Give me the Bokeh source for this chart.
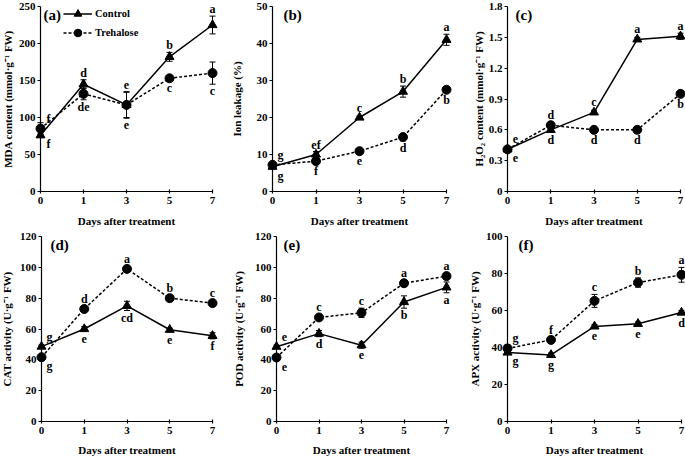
from bokeh.plotting import figure
from bokeh.models import (ColumnDataSource, Whisker, TeeHead, FixedTicker, Range1d,
                          Legend, LegendItem, Label, LabelSet)
from bokeh.layouts import column, row
from bokeh.embed import file_html
from bokeh.resources import INLINE
from bokeh.core.properties import value

FONT = "Liberation Serif"

# ---------------- data ----------------
days = ["0", "1", "3", "5", "7"]
series_names = ["Control", "Trehalose"]
x_title = "Days after treatment"

# (a) MDA content
mda_ctrl = [76, 145, 117, 182, 225]
mda_ctrl_err = [3, 6, 17, 6, 12]
mda_ctrl_let = ["f", "d", "e", "b", "a"]
mda_ctrl_side = ["d", "u", "u", "u", "u"]
mda_treh = [85, 132, 117, 153, 160]
mda_treh_err = [8, 8, 18, 3, 15]
mda_treh_let = ["f", "de", "e", "c", "c"]
mda_treh_side = ["u", "d", "d", "d", "d"]

# (b) Ion leakage
ion_ctrl = [6.7, 10.0, 20.0, 27.0, 41.0]
ion_ctrl_err = [0.3, 0.8, 0.4, 1.5, 1.5]
ion_ctrl_let = ["g", "ef", "c", "b", "a"]
ion_ctrl_side = ["d", "u", "u", "u", "u"]
ion_treh = [7.2, 8.2, 10.9, 14.7, 27.5]
ion_treh_err = [0.3, 0.4, 0.4, 1.0, 0.6]
ion_treh_let = ["g", "f", "e", "d", "b"]
ion_treh_side = ["u", "d", "d", "d", "d"]

# (c) H2O2 content
h2o2_ctrl = [0.41, 0.60, 0.77, 1.48, 1.51]
h2o2_ctrl_err = [0.01, 0.02, 0.02, 0.02, 0.03]
h2o2_ctrl_let = ["e", "d", "c", "a", "a"]
h2o2_ctrl_side = ["d", "d", "u", "u", "u"]
h2o2_treh = [0.41, 0.645, 0.60, 0.60, 0.95]
h2o2_treh_err = [0.01, 0.02, 0.01, 0.01, 0.02]
h2o2_treh_let = ["e", "d", "d", "d", "b"]
h2o2_treh_side = ["u", "u", "d", "d", "d"]

# (d) CAT activity
cat_ctrl = [48.6, 60.0, 75.0, 59.5, 55.6]
cat_ctrl_err = [1.0, 1.5, 3.0, 1.0, 2.0]
cat_ctrl_let = ["g", "e", "cd", "e", "f"]
cat_ctrl_side = ["u", "d", "d", "d", "d"]
cat_treh = [41.7, 73.0, 99.0, 80.0, 76.8]
cat_treh_err = [1.5, 1.0, 1.0, 1.0, 1.5]
cat_treh_let = ["g", "d", "a", "b", "c"]
cat_treh_side = ["d", "u", "u", "u", "u"]

# (e) POD activity
pod_ctrl = [48.5, 57.0, 49.5, 77.5, 87.0]
pod_ctrl_err = [1.0, 2.0, 2.0, 4.0, 3.5]
pod_ctrl_let = ["e", "d", "e", "b", "a"]
pod_ctrl_side = ["u", "d", "d", "d", "d"]
pod_treh = [41.5, 67.5, 70.5, 89.7, 94.3]
pod_treh_err = [1.0, 1.0, 3.0, 1.0, 1.0]
pod_treh_let = ["e", "c", "c", "a", "a"]
pod_treh_side = ["d", "u", "u", "u", "u"]

# (f) APX activity
apx_ctrl = [37.3, 36.0, 51.4, 52.8, 58.9]
apx_ctrl_err = [1.0, 1.0, 1.0, 1.0, 1.0]
apx_ctrl_let = ["g", "g", "e", "e", "d"]
apx_ctrl_side = ["d", "d", "d", "d", "d"]
apx_treh = [39.5, 44.1, 65.2, 75.1, 79.3]
apx_treh_err = [2.0, 1.5, 3.5, 2.5, 4.0]
apx_treh_let = ["g", "f", "c", "b", "a"]
apx_treh_side = ["u", "u", "u", "u", "u"]


def fmt_tick(t, dec):
    if t == 0:
        return "0"
    return f"{t:.{dec}f}"


def add_letters(p, x, vals, errs, lets, sides, px_per_unit):
    ys, xo, yo = [], [], []
    for i, (v, e, s) in enumerate(zip(vals, errs, sides)):
        up = s == "u"
        ys.append(v)
        if i == 0:
            xo.append(8)
            yo.append(10 if up else -9)
        else:
            off = max(e * px_per_unit + 7, 10)
            xo.append(0)
            yo.append(off if up else -off)
    src = ColumnDataSource(dict(x=x, y=ys, t=lets, xo=xo, yo=yo))
    ls = LabelSet(x="x", y="y", text="t", x_offset="xo", y_offset="yo", source=src,
                  text_font=value(FONT), text_font_style="bold", text_font_size="12px",
                  text_color="black", text_align="center", text_baseline="middle")
    p.add_layout(ls)


def add_errors(p, x, vals, errs):
    src = ColumnDataSource(dict(x=x, upper=[v + e for v, e in zip(vals, errs)],
                                lower=[v - e for v, e in zip(vals, errs)]))
    w = Whisker(source=src, base="x", upper="upper", lower="lower",
                line_color="black", line_width=1,
                upper_head=TeeHead(size=6, line_color="black", line_width=1),
                lower_head=TeeHead(size=6, line_color="black", line_width=1))
    p.add_layout(w)


def panel(tag, ylabel, ymax, ystep, dec,
          ctrl, ctrl_err, ctrl_let, ctrl_side,
          treh, treh_err, treh_let, treh_side,
          W, H, L, R, T, B, ylab_standoff, tag_dx, legend=False):
    # W,H: figure size; L,R,T,B: pixel distance from figure edges to the data box
    n = len(days)
    sx = (W - L - R) / (n - 1)
    sy = (H - T - B) / ymax
    p = figure(width=W, height=H, output_backend="svg", toolbar_location=None,
               x_range=Range1d(-L / sx, n - 1 + R / sx),
               y_range=Range1d(-B / sy, ymax + T / sy),
               min_border=0, min_border_left=0, min_border_right=0,
               min_border_top=0, min_border_bottom=0)
    p.outline_line_color = None
    p.grid.visible = False
    p.background_fill_color = "white"
    p.border_fill_color = "white"

    x = list(range(n))
    nt = int(round(ymax / ystep))
    yt = [round(i * ystep, 3) for i in range(nt + 1)]

    xa = p.xaxis[0]
    ya = p.yaxis[0]
    xa.ticker = FixedTicker(ticks=x)
    xa.major_label_overrides = {i: d for i, d in zip(x, days)}
    xa.bounds = (0, n - 1)
    xa.fixed_location = 0
    ya.ticker = FixedTicker(ticks=yt)
    ya.major_label_overrides = {t: fmt_tick(t, dec) for t in yt}
    ya.bounds = (0, ymax)
    ya.fixed_location = 0
    for ax in (xa, ya):
        ax.axis_line_width = 1.2
        ax.axis_line_color = "black"
        ax.major_tick_line_color = "black"
        ax.major_tick_line_width = 1.2
        ax.minor_tick_line_color = None
        ax.major_label_text_font = FONT
        ax.major_label_text_font_style = "bold"
        ax.major_label_text_font_size = "11px"
        ax.major_label_text_color = "black"
        ax.major_label_standoff = 2
        ax.axis_label_text_font = FONT
        ax.axis_label_text_font_style = "bold"
        ax.axis_label_text_font_size = "11px"
        ax.axis_label_text_color = "black"
    xa.major_tick_in = 2
    xa.major_tick_out = 2
    xa.major_label_standoff = 3
    ya.major_tick_in = 0
    ya.major_tick_out = 3
    ya.axis_label = ylabel
    ya.axis_label_standoff = ylab_standoff

    # x axis title, centred under the data span
    p.add_layout(Label(x=(n - 1) / 2, y=0, y_offset=-(B - 9), text=x_title,
                       text_font=FONT, text_font_style="bold", text_font_size="11px",
                       text_color="black", text_align="center", text_baseline="middle"))

    add_errors(p, x, ctrl, ctrl_err)
    add_errors(p, x, treh, treh_err)

    lc = p.line(x, ctrl, line_color="black", line_width=1.5)
    sc = p.scatter(x, ctrl, marker="triangle", size=9, color="black")
    lt = p.line(x, treh, line_color="black", line_width=1.5, line_dash="3 2")
    st = p.scatter(x, treh, marker="circle", size=9, color="black")

    add_letters(p, x, ctrl, ctrl_err, ctrl_let, ctrl_side, sy)
    add_letters(p, x, treh, treh_err, treh_let, treh_side, sy)

    p.add_layout(Label(x=0, y=ymax, x_offset=tag_dx, y_offset=-8, text=f"({tag})",
                       text_font=FONT, text_font_style="bold", text_font_size="15px",
                       text_color="black", text_baseline="middle", text_align="left"))

    if legend:
        lg = Legend(items=[LegendItem(label=series_names[0], renderers=[lc, sc]),
                           LegendItem(label=series_names[1], renderers=[lt, st])],
                    location=(L + 23, H - T - 35.5))
        lg.padding = 0
        lg.spacing = 0
        lg.margin = 0
        lg.glyph_width = 29
        lg.glyph_height = 19
        lg.label_height = 19
        lg.label_standoff = 3
        lg.border_line_color = None
        lg.background_fill_alpha = 0
        lg.label_text_font = FONT
        lg.label_text_font_style = "bold"
        lg.label_text_font_size = "10.5px"
        lg.label_text_color = "black"
        p.add_layout(lg)
    return p


pa = panel("a", "MDA content (mmol·g⁻¹ FW)", 250, 50, 0,
           mda_ctrl, mda_ctrl_err, mda_ctrl_let, mda_ctrl_side,
           mda_treh, mda_treh_err, mda_treh_let, mda_treh_side,
           228, 229, 40, 16, 6, 38, 2, 3, legend=True)
pb = panel("b", "Ion leakage (%)", 50, 10, 0,
           ion_ctrl, ion_ctrl_err, ion_ctrl_let, ion_ctrl_side,
           ion_treh, ion_treh_err, ion_treh_let, ion_treh_side,
           228, 229, 44, 10, 6, 38, 11, 11)
pc = panel("c", "H₂O₂ content (mmol·g⁻¹ FW)", 1.8, 0.3, 1,
           h2o2_ctrl, h2o2_ctrl_err, h2o2_ctrl_let, h2o2_ctrl_side,
           h2o2_treh, h2o2_treh_err, h2o2_treh_let, h2o2_treh_side,
           229, 229, 51, 5, 6, 38, 1, 8)
pd_ = panel("d", "CAT activity (U·g⁻¹ FW)", 120, 20, 0,
            cat_ctrl, cat_ctrl_err, cat_ctrl_let, cat_ctrl_side,
            cat_treh, cat_treh_err, cat_treh_let, cat_treh_side,
            228, 229, 41, 16, 7, 37, 4, 9)
pe = panel("e", "POD activity (U·g⁻¹ FW)", 120, 20, 0,
           pod_ctrl, pod_ctrl_err, pod_ctrl_let, pod_ctrl_side,
           pod_treh, pod_treh_err, pod_treh_let, pod_treh_side,
           228, 229, 48, 10, 7, 37, 7, 7)
pf = panel("f", "APX activity (U·g⁻¹ FW)", 100, 20, 0,
           apx_ctrl, apx_ctrl_err, apx_ctrl_let, apx_ctrl_side,
           apx_treh, apx_treh_err, apx_treh_let, apx_treh_side,
           229, 229, 51, 4, 7, 37, 2, 11)

layout = column(row(pa, pb, pc), row(pd_, pe, pf))

with open("out.html", "w") as f:
    f.write(file_html(layout, INLINE))
